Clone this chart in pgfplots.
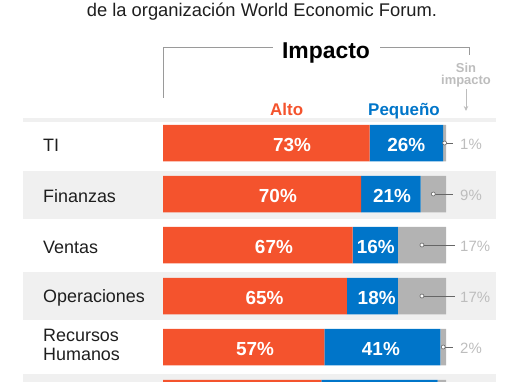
\documentclass[border=0pt]{standalone}
\usepackage{fontspec}
\setmainfont{Liberation Sans}
\usepackage{pgfplots}
\pgfplotsset{compat=1.18}
\usepackage{pgfplotstable}
\usetikzlibrary{arrows.meta}
\definecolor{cOr}{HTML}{F4532D}
\definecolor{cBl}{HTML}{0075C9}
\definecolor{cGr}{HTML}{B3B3B3}
\definecolor{cBand}{HTML}{F0F0F0}
\definecolor{cLbl}{HTML}{BDBDBD}
\definecolor{cLine}{HTML}{666666}
\definecolor{cBrk}{HTML}{9A9A9A}
\definecolor{cTxt}{HTML}{1E1E1E}

\pgfplotstableread{
y alto peq sin
1 73 26 1
2 70 21 9
3 67 16 17
4 65 18 17
5 57 41 2
6 56 41 3
}\bars

\pgfplotstableread{
x y l
45.6 1 73
40.6 2 70
39.2 3 67
35.9 4 65
32.5 5 57
86.0 1 26
80.9 2 21
75.2 3 16
75.5 4 18
77.0 5 41
}\inlabels

\pgfplotstableread{
x y l
104.95 1 1
104.95 2 9
104.95 3 17
104.95 4 17
104.95 5 2
}\outlabels

\pgfplotsset{base/.style={
  scale only axis, width=510bp, height=382bp,
  at={(0,0)}, anchor=north west,
  xmin=-57.597, xmax=122.615,
  ymin=-1.80392, ymax=5.68627,
  y dir=reverse, enlargelimits=false, clip=true}}

\begin{document}
\begin{tikzpicture}
\begin{scope}[x=1bp, y=-1bp]
  \fill[cBand] (23,118) rectangle (496,122);
  \fill[cBand] (23,170.5) rectangle (496,218.5);
  \fill[cBand] (23,272) rectangle (496,320);
  \fill[cBand] (23,374) rectangle (496,382);
\end{scope}
\begin{axis}[base,
  xbar stacked, bar width=0.7157,
  axis line style={draw=none}, major tick length=0pt,
  xtick=\empty, ytick={1,2,3,4,5},
  yticklabels={TI,Finanzas,Ventas,Operaciones,{Recursos\\Humanos\rule[-8pt]{0pt}{0pt}}},
  yticklabel style={anchor=west, xshift=43bp, yshift=-2bp, inner sep=0pt,
    align=left, text=cTxt, font=\fontsize{18}{19}\selectfont}]
  \addplot[fill=cOr, draw=none] table[x=alto, y=y]{\bars};
  \addplot[fill=cBl, draw=none] table[x=peq, y=y]{\bars};
  \addplot[fill=cGr, draw=none] table[x=sin, y=y]{\bars};
\end{axis}
\begin{axis}[base, hide axis]
  \addplot[draw=none, mark=none, nodes near coords={\pgfplotspointmeta\%},
    point meta=explicit symbolic,
    nodes near coords style={anchor=center, yshift=-1.5bp, text=white,
      font=\fontsize{19}{20}\selectfont\bfseries}]
    table[x=x, y=y, meta=l]{\inlabels};
  \addplot[color=cLine, line width=0.9bp, mark=none, unbounded coords=jump]
    coordinates {(99.5,1) (102.5,1) (nan,nan)
                 (95.5,2) (102.5,2) (nan,nan)
                 (91.5,3) (103.2,3) (nan,nan)
                 (91.5,4) (103.2,4) (nan,nan)
                 (99.0,5) (102.5,5)};
  \addplot[only marks, mark=*, mark size=2bp,
    mark options={fill=white, draw=cLine, line width=0.6bp}]
    coordinates {(99.5,1) (95.5,2) (91.5,3) (91.5,4) (99.0,5)};
  \addplot[draw=none, mark=none, nodes near coords={\pgfplotspointmeta\%},
    point meta=explicit symbolic,
    nodes near coords style={anchor=west, inner sep=0pt, yshift=-1bp, text=cLbl,
      font=\fontsize{15}{16}\selectfont}]
    table[x=x, y=y, meta=l]{\outlabels};
\end{axis}
\begin{scope}[x=1bp, y=-1bp]
  \node[anchor=base, inner sep=0pt, text=cTxt, font=\fontsize{18.4}{20}\selectfont]
    at (262,16) {de la organización World Economic Forum.};
  \draw[cBrk, line width=1bp] (163,97.5) -- (163,47.7) -- (273,47.7);
  \draw[cBrk, line width=1bp] (380,47.7) -- (469,47.7) -- (469,55);
  \node[anchor=base, inner sep=0pt, text=black, font=\fontsize{23}{24}\selectfont\bfseries]
    at (326,58) {Impacto};
  \node[anchor=base, inner sep=0pt, text=cOr, font=\fontsize{17}{18}\selectfont\bfseries]
    at (286.7,115) {Alto};
  \node[anchor=base, inner sep=0pt, text=cBl, font=\fontsize{17}{18}\selectfont\bfseries]
    at (404,115) {Pequeño};
  \node[anchor=base, inner sep=0pt, text=cLbl, font=\fontsize{13}{13}\selectfont\bfseries]
    at (466,72) {Sin};
  \node[anchor=base, inner sep=0pt, text=cLbl, font=\fontsize{13}{13}\selectfont\bfseries]
    at (466,84) {impacto};
  \draw[cLbl, line width=1bp, -{Stealth[length=5bp, width=4.5bp]}] (466,89) -- (466,111);
\end{scope}
\pgfresetboundingbox
\path[use as bounding box] (0,0) rectangle (510bp,-382bp);
\end{tikzpicture}
\end{document}
